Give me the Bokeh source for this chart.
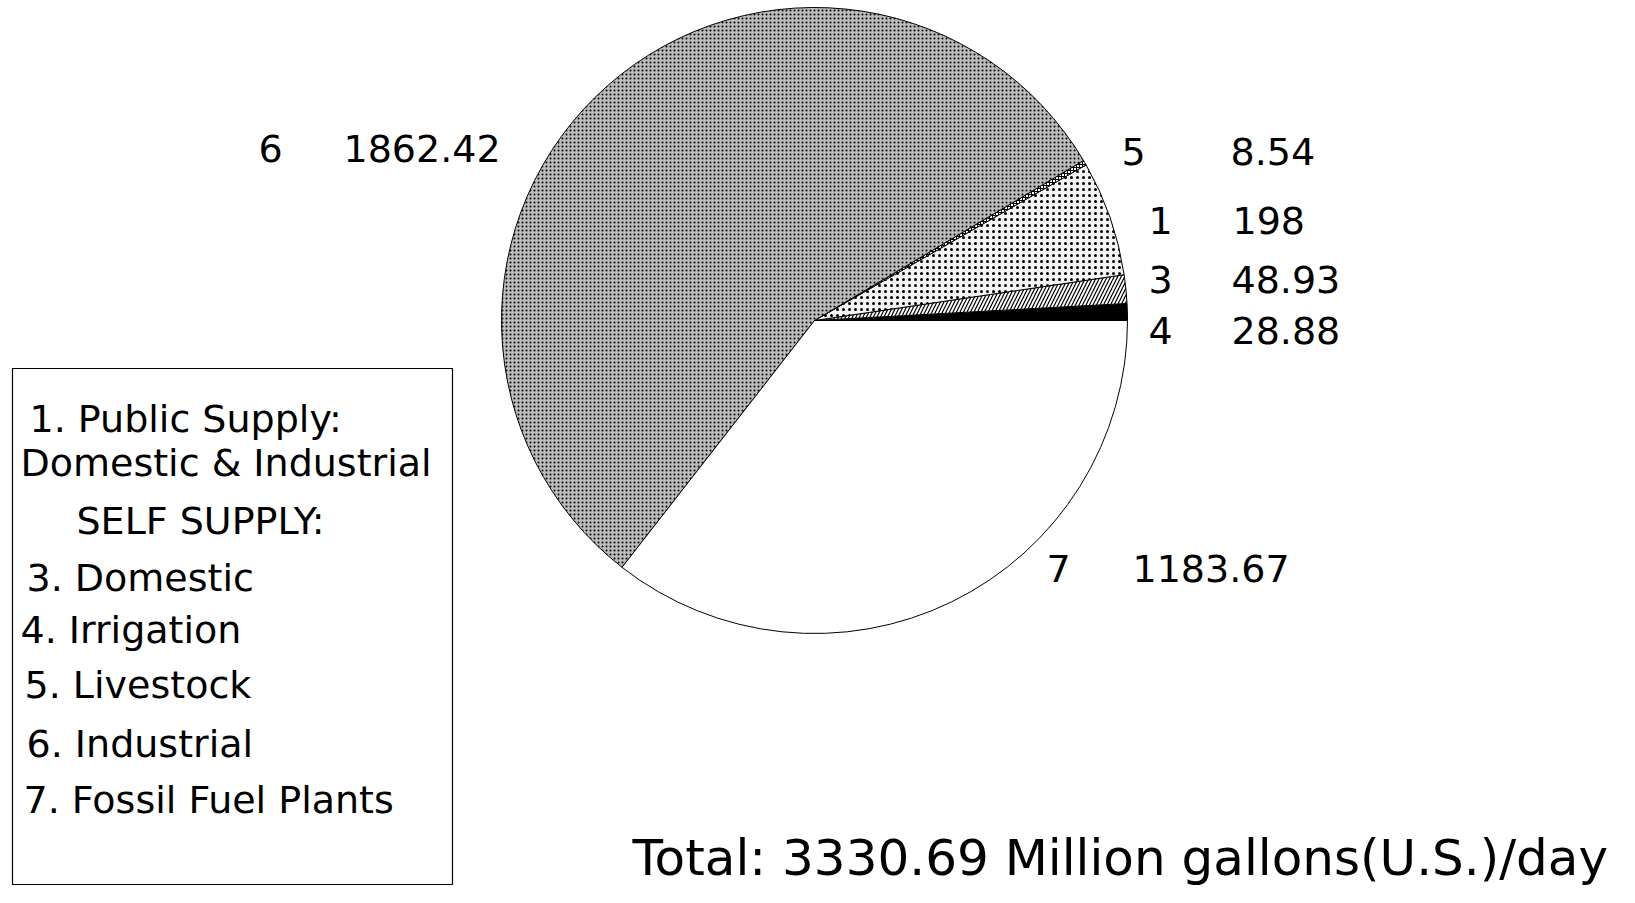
import numpy as np
from bokeh.plotting import figure
from bokeh.models import Range1d
from bokeh.core.properties import value
from bokeh.embed import file_html
from bokeh.resources import INLINE

# ---- data ----
categories = ["4", "3", "1", "5", "6", "7"]
amounts = [28.88, 48.93, 198, 8.54, 1862.42, 1183.67]
amount_labels = ["28.88", "48.93", "198", "8.54", "1862.42", "1183.67"]
legend_lines = ["1. Public Supply:", "Domestic & Industrial", "SELF SUPPLY:",
                "3. Domestic", "4. Irrigation", "5. Livestock", "6. Industrial",
                "7. Fossil Fuel Plants"]
total_text = "Total: 3330.69 Million gallons(U.S.)/day"

# ---- layout: canvas pixel coords measured from the top-left ----
W, H = 1619, 887
def X(t): return t
def Y(t): return H - t

p = figure(width=W, height=H, output_backend="svg", toolbar_location=None,
           x_range=Range1d(0, W), y_range=Range1d(0, H), min_border=0)
p.axis.visible = False
p.grid.visible = False
p.outline_line_color = None
p.background_fill_color = "white"

vals = np.array(amounts, dtype=float)
ang = np.concatenate([[0.0], np.cumsum(vals) / vals.sum() * 2 * np.pi])
cx, cy, r = X(814), Y(320), 313

styles = {
    "4": dict(fill_color="black"),
    "3": dict(fill_color="white", hatch_pattern="right_diagonal_line", hatch_scale=7, hatch_weight=1.2),
    "1": dict(fill_color="#f4f4f4", hatch_pattern="dot", hatch_scale=6, hatch_weight=0.7),
    "5": dict(fill_color="white", hatch_pattern="cross", hatch_scale=3, hatch_weight=1),
    "6": dict(fill_color="#bcbcbc", hatch_pattern="dot", hatch_scale=4, hatch_weight=1.6),
    "7": dict(fill_color="white"),
}
for i, c in enumerate(categories):
    kw = dict(x=cx, y=cy, radius=r, start_angle=ang[i], end_angle=ang[i + 1],
              line_color="black", line_width=1, **styles[c])
    if "hatch_pattern" in kw:
        kw["hatch_color"] = "black"
    p.wedge(**kw)

font = value("DejaVu Sans")
# slice labels: (number centre x, value left x, middle y)
label_pos = {"6": (270, 343, 148), "5": (1133, 1230, 151), "1": (1160, 1232, 220),
             "3": (1160, 1231, 279), "4": (1160, 1231, 330), "7": (1058, 1132, 568)}
for c, lab in zip(categories, amount_labels):
    xn, xv, yy = label_pos[c]
    p.text(x=[X(xn)], y=[Y(yy)], text=[c], text_font=font, text_font_size="38px",
           text_align="center", text_baseline="middle", text_color="black")
    p.text(x=[X(xv)], y=[Y(yy)], text=[lab], text_font=font, text_font_size="38px",
           text_align="left", text_baseline="middle", text_color="black")

# legend box
p.quad(left=X(12), right=X(452), top=Y(368), bottom=Y(884), fill_color=None,
       line_color="black", line_width=1.2)
leg_x = [29, 20, 76, 26, 20, 24, 26, 23]
leg_y = [418, 462, 520, 577, 629, 684, 743, 799]
p.text(x=[X(v) for v in leg_x], y=[Y(v) for v in leg_y], text=legend_lines,
       text_font=font, text_font_size="38px", text_align="left",
       text_baseline="middle", text_color="black")

p.text(x=[X(632)], y=[Y(886)], text=[total_text], text_font=font,
       text_font_size="50px", text_align="left", text_baseline="bottom",
       text_color="black")

open("out.html", "w").write(file_html(p, INLINE))
